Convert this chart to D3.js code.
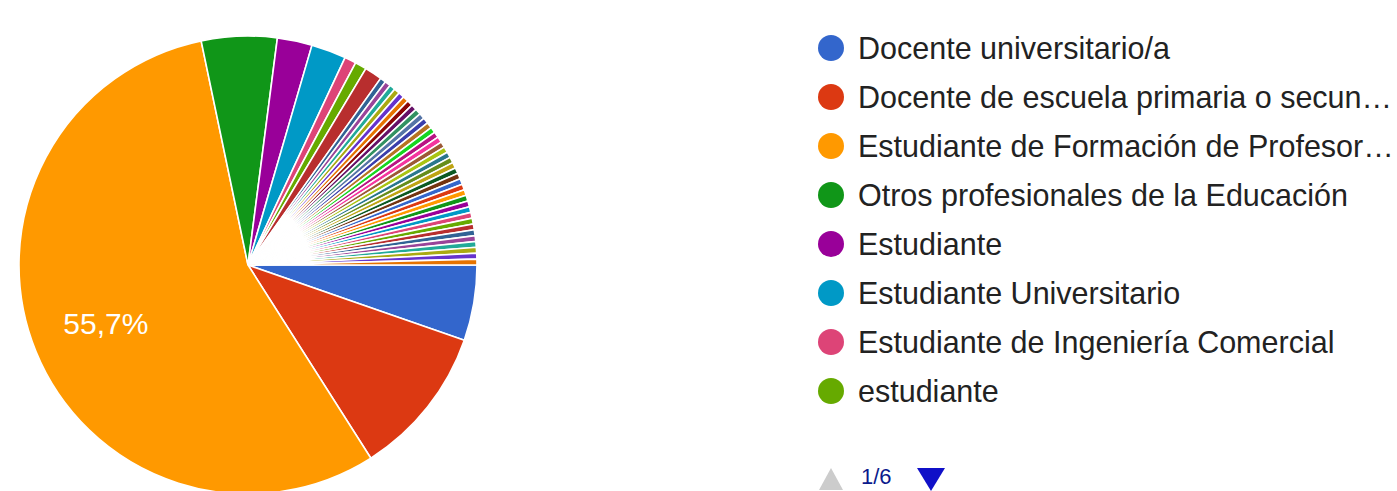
<!DOCTYPE html>
<html>
<head>
<meta charset="utf-8">
<script src="https://cdn.jsdelivr.net/npm/d3@7"></script>
<style>
  html, body { margin: 0; padding: 0; background: #fff; overflow: hidden; }
  svg { display: block; font-family: "Liberation Sans", Arial, sans-serif; }
</style>
</head>
<body>
<div id="chart"></div>
<script>
// legend names (only page 1 of 6 is visible)
var categories = ["Docente universitario/a",
                  "Docente de escuela primaria o secundaria",
                  "Estudiante de Formación de Profesores",
                  "Otros profesionales de la Educación",
                  "Estudiante",
                  "Estudiante Universitario",
                  "Estudiante de Ingeniería Comercial",
                  "estudiante"];

// response counts, in pie order (46 answers, most of them single responses)
var counts = [13, 26, 136, 13, 6, 6, 2, 2, 3,
              1, 1, 1, 1, 1, 1, 1, 1, 1, 1,
              1, 1, 1, 1, 1, 1, 1, 1, 1, 1,
              1, 1, 1, 1, 1, 1, 1, 1, 1, 1,
              1, 1, 1, 1, 1, 1, 1];

var palette = ["#3366cc","#dc3912","#ff9900","#109618","#990099","#0099c6","#dd4477",
               "#66aa00","#b82e2e","#316395","#994499","#22aa99","#aaaa11","#6633cc",
               "#e67300","#8b0707","#651067","#329262","#5574a6","#3b3eac","#b77322",
               "#16d620","#b91383","#f4359e","#9c5935","#a9c413","#2a778d","#668d1c",
               "#bea413","#0c5922","#743411"];

var pageLabel = "1/6";

var width = 1397, height = 491;
var cx = 248, cy = 265, radius = 229;

var data = counts.map(function(c, i) {
    return { name: categories[i] || ("Respuesta " + (i + 1)), value: c, color: palette[i % palette.length] };
});
var total = d3.sum(counts);

var svg = d3.select("#chart").append("svg")
    .attr("width", width)
    .attr("height", height);

  // ---------------- PIE ----------------
var pie = d3.pie()
    .sort(null)
    .value(function(d) { return d.value; })
    .startAngle(Math.PI / 2)
    .endAngle(Math.PI / 2 + Math.PI * 2);

var arc = d3.arc().innerRadius(0).outerRadius(radius);

var g = svg.append("g").attr("transform", "translate(" + cx + "," + cy + ")");

var arcs = pie(data);

g.selectAll("path.slice")
    .data(arcs)
    .enter().append("path")
    .attr("class", "slice")
    .attr("d", arc)
    .attr("fill", function(d) { return d.data.color; })
    .attr("stroke", "#fff")
    .attr("stroke-width", 1.6);

// percentage label only on slices that are big enough
var labelArc = d3.arc().innerRadius(radius * 0.67).outerRadius(radius * 0.67);
g.selectAll("text.pct")
    .data(arcs.filter(function(d) { return d.data.value / total > 0.2; }))
    .enter().append("text")
    .attr("class", "pct")
    .attr("transform", function(d) { return "translate(" + labelArc.centroid(d) + ")"; })
    .attr("text-anchor", "middle")
    .attr("dy", "0.36em")
    .attr("fill", "#fff")
    .style("font-size", "30px")
    .text(function(d) { return d3.format(".1f")(d.data.value / total * 100).replace(".", ",") + "%"; });

  // ---------------- LEGEND ----------------
var legendX = 831, legendY = 48, rowH = 49;
var legend = svg.append("g").attr("class", "legend");

var item = legend.selectAll("g.item")
    .data(data.slice(0, 8))
    .enter().append("g")
    .attr("class", "item")
    .attr("transform", function(d, i) { return "translate(" + legendX + "," + (legendY + i * rowH) + ")"; });

item.append("circle")
    .attr("r", 13)
    .attr("fill", function(d) { return d.color; });

var maxText = 1397 - 858 - 2;
item.append("text")
    .attr("x", 27)
    .attr("dy", "0.36em")
    .attr("fill", "#222")
    .style("font-size", "30.5px")
    .text(function(d) { return d.name; })
    .each(function() {
        // truncate with ellipsis like the original
        var t = d3.select(this), full = t.text();
        if (this.getComputedTextLength() <= maxText) return;
        var n = full.length;
        while (n > 0) {
            t.text(full.slice(0, n).replace(/\s+$/, "") + "…");
            if (this.getComputedTextLength() <= maxText) break;
            n--;
        }
    });

// pager (cut by the bottom edge in the original; kept just inside here)
var pager = svg.append("g").attr("transform", "translate(831,480)");
pager.append("path")
    .attr("d", "M-12,10 L0,-12 L12,10 Z")
    .attr("fill", "#ccc");
pager.append("text")
    .attr("x", 30)
    .attr("y", 4)
    .attr("fill", "#0b1a8c")
    .style("font-size", "22px")
    .text(pageLabel);
pager.append("path")
    .attr("d", "M86,-12 L114,-12 L100,11 Z")
    .attr("fill", "#1010c8");
</script>
</body>
</html>
